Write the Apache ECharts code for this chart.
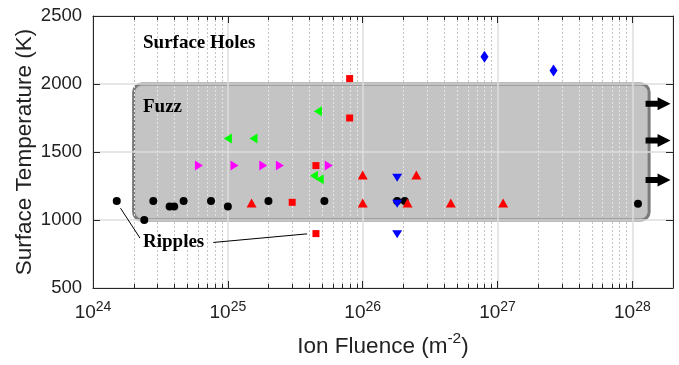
<!DOCTYPE html>
<html><head><meta charset="utf-8">
<script src="https://cdn.jsdelivr.net/npm/echarts@6/dist/echarts.min.js"></script>
<style>html,body{margin:0;padding:0;background:#fff}#c{width:679px;height:365px}</style>
</head><body><div id="c"></div>
<script>
// ---- axis ranges / ticks ----
const xMin = 1e24, xMax = 2e28;
const yMin = 500, yMax = 2500, yStep = 500;
const xTickExponents = [24, 25, 26, 27, 28];
const minorTicks = [
  2e24,3e24,4e24,5e24,6e24,7e24,8e24,9e24,
  2e25,3e25,4e25,5e25,6e25,7e25,8e25,9e25,
  2e26,3e26,4e26,5e26,6e26,7e26,8e26,9e26,
  2e27,3e27,4e27,5e27,6e27,7e27,8e27,9e27
];
// ---- regions / annotations ----
const fuzzBox = [2e24, 1000, 1.33e28, 2000]; // xLeft, yBottom, xRight, yTop
const rippleLine1 = [[1.6e24, 1087], [2.23e24, 867]];
const rippleLine2 = [[7.8e24, 835], [3.87e25, 898]];
// ---- data series ----
const blackCircles = [[1.5e24,1140],[2.4e24,1000],[2.8e24,1140],[3.7e24,1100],[4.0e24,1100],[4.7e24,1140],
  [7.5e24,1140],[1.0e25,1100],[2.0e25,1140],[5.2e25,1140],[1.8e26,1140],[2.05e26,1140],[1.1e28,1120]];
const redSquares = [[8.0e25,2040],[8.0e25,1750],[4.5e25,1400],[3.0e25,1130],[4.5e25,900]];
const redTriangles = [[1.5e25,1125],[1.0e26,1330],[2.5e26,1330],[1.0e26,1125],[2.15e26,1125],[4.5e26,1125],[1.1e27,1125]];
const greenLeft = [[1.0e25,1600],[1.55e25,1600],[4.65e25,1800],[4.35e25,1325],[4.8e25,1300]];
const magentaRight = [[6.1e24,1400],[1.12e25,1400],[1.83e25,1400],[2.43e25,1400],[5.6e25,1400]];
const blueDown = [[1.8e26,1310],[1.8e26,1120],[1.8e26,895]];
const blueDiamonds = [[8.0e26,2200],[2.6e27,2100]];
const arrows = [[1.55e28,1855],[1.55e28,1585],[1.55e28,1295]];

const AX = '#262626';
const SANS = '"Liberation Sans", Arial, sans-serif';
const SERIF = '"Liberation Serif", "Times New Roman", serif';

function isDecade(v){ const l = Math.log10(v); return Math.abs(l - Math.round(l)) < 1e-6 && xTickExponents.indexOf(Math.round(l)) >= 0; }

const chart = echarts.init(document.getElementById('c'), null, {renderer:'canvas'});
function scatter(data, symbol, size, color, rotate, z){
  return {type:'scatter', data, symbol, symbolSize:size, symbolRotate:rotate||0,
    itemStyle:{color, opacity:1}, z:z||5, silent:true, animation:false};
}
const option = {
  animation:false,
  backgroundColor:'#fff',
  grid:{left:93, right:6, top:16, bottom:77, containLabel:false, outerBoundsMode:'none'},
  xAxis:[{
    type:'log', logBase:10, min:xMin, max:xMax, z:1,
    name:'{t|Ion Fluence (m}{s|-2}{t|)}', nameLocation:'middle', nameGap:43,
    nameTextStyle:{rich:{t:{fontSize:22.5, fontFamily:SANS, color:'#222', verticalAlign:'bottom', lineHeight:27},
                         s:{fontSize:15.5, fontFamily:SANS, color:'#222', verticalAlign:'top'}}},
    axisLine:{show:true, lineStyle:{color:AX, width:1}},
    axisTick:{show:true, inside:true, length:7, lineStyle:{color:AX}},
    axisLabel:{margin:12, formatter:v => isDecade(v) ? '{b|10}{s|' + Math.round(Math.log10(v)) + '}' : '',
      rich:{b:{fontSize:19, fontFamily:SANS, color:'#222', verticalAlign:'bottom', lineHeight:22},
            s:{fontSize:14, fontFamily:SANS, color:'#222', verticalAlign:'top'}}},
    splitLine:{show:true, lineStyle:{color:'#dedede', width:1.5}}
  },{
    type:'log', logBase:10, min:xMin, max:xMax, position:'top', z:1,
    axisLine:{show:true, lineStyle:{color:AX, width:1}},
    axisTick:{show:true, inside:true, length:7, lineStyle:{color:AX}},
    axisLabel:{show:false}, splitLine:{show:false}
  }],
  yAxis:[{
    type:'value', min:yMin, max:yMax, interval:yStep, z:1,
    name:'Surface Temperature (K)', nameLocation:'middle', nameGap:57, nameMoveOverlap:false,
    nameTextStyle:{fontSize:22.5, fontFamily:SANS, color:'#222'},
    axisLine:{show:true, lineStyle:{color:AX, width:1}},
    axisTick:{show:true, inside:true, length:7, lineStyle:{color:AX}},
    axisLabel:{margin:11, fontSize:18.5, fontFamily:SANS, color:'#222', formatter:v => String(v)},
    splitLine:{show:true, lineStyle:{color:'#dedede', width:1.5}}
  },{
    type:'value', min:yMin, max:yMax, interval:yStep, position:'right', z:1,
    axisLine:{show:true, lineStyle:{color:AX, width:1}},
    axisTick:{show:true, inside:true, length:7, lineStyle:{color:AX}},
    axisLabel:{show:false}, splitLine:{show:false}
  }],
  graphic:[
    {type:'text', x:143, y:43, z:20, style:{text:'Surface Holes', font:'bold 19px ' + SERIF, fill:'#000', verticalAlign:'middle'}},
    {type:'text', x:143, y:107, z:20, style:{text:'Fuzz', font:'bold 19px ' + SERIF, fill:'#000', verticalAlign:'middle'}},
    {type:'text', x:143, y:242, z:20, style:{text:'Ripples', font:'bold 19px ' + SERIF, fill:'#000', verticalAlign:'middle'}}
  ],
  series:[
    {type:'custom', z:0, silent:true, clip:false, data:[fuzzBox],
      renderItem:(params, api) => {
        const p1 = api.coord([api.value(0), api.value(3)]);
        const p2 = api.coord([api.value(2), api.value(1)]);
        return {type:'rect', shape:{x:p1[0], y:p1[1], width:p2[0]-p1[0], height:p2[1]-p1[1], r:8},
          style:{fill:'#c4c4c4', stroke:'#7b7b7b', lineWidth:3}};
      }},
    {type:'custom', z:2, silent:true, clip:false, data:minorTicks.map(v => [v, yMin]),
      renderItem:(params, api) => {
        const cs = params.coordSys;
        const px = Math.round(api.coord([api.value(0), yMin])[0]) + 0.5;
        const top = cs.y, bot = cs.y + cs.height;
        const bTop = api.coord([fuzzBox[0], fuzzBox[3]])[1];
        const bBot = api.coord([fuzzBox[0], fuzzBox[1]])[1];
        const bL = api.coord([fuzzBox[0], fuzzBox[1]])[0];
        const bR = api.coord([fuzzBox[2], fuzzBox[1]])[0];
        const out = {stroke:'#c4c4c4', lineWidth:1, lineDash:[2,2]};
        const inn = {stroke:'#e4e4e4', lineWidth:1, lineDash:[2,2]};
        const tk = {stroke:AX, lineWidth:1};
        const L = (x1,y1,x2,y2,s) => ({type:'line', shape:{x1,y1,x2,y2}, style:s});
        const ch = [];
        if (px > bL && px < bR) {
          ch.push(L(px, top, px, bTop - 2, out), L(px, bTop + 2, px, bBot - 2, inn), L(px, bBot + 2, px, bot, out));
        } else {
          ch.push(L(px, top, px, bot, out));
        }
        ch.push(L(px, bot, px, bot - 4, tk), L(px, top, px, top + 4, tk));
        return {type:'group', children:ch};
      }},
    Object.assign(scatter(blackCircles, 'circle', 8, '#000'), {
      markLine:{silent:true, symbol:['none','none'], animation:false, label:{show:false},
        lineStyle:{color:'#000', width:1, type:'solid'},
        data:[[{coord:rippleLine1[0]},{coord:rippleLine1[1]}],[{coord:rippleLine2[0]},{coord:rippleLine2[1]}]]}
    }),
    scatter(redSquares, 'rect', 7, '#ff0000'),
    scatter(redTriangles, 'triangle', [10,9], '#ff0000'),
    scatter(greenLeft, 'triangle', [10,8], '#00ff00', 90),
    scatter(magentaRight, 'triangle', [10,8], '#ff00ff', -90),
    scatter(blueDown, 'triangle', [10,8], '#0000ff', 180),
    scatter(blueDiamonds, 'diamond', [8,12], '#0000ff'),
    scatter(arrows, 'path://M0,3.5 L12,3.5 L12,0 L25,6.5 L12,13 L12,9.5 L0,9.5 Z', [25,13], '#000')
  ]
};
chart.setOption(option);
</script>
</body></html>
